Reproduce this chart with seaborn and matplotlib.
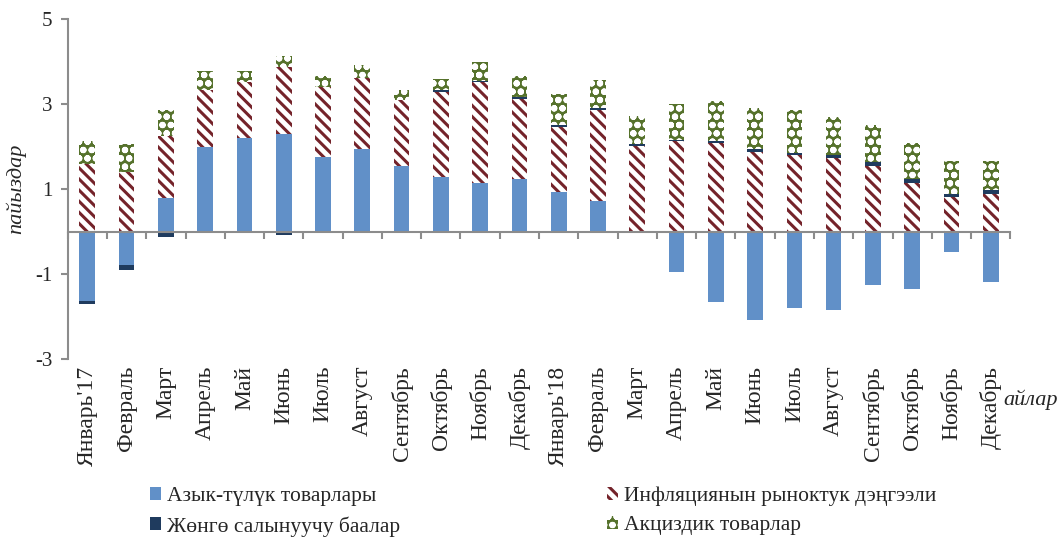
import numpy as np
import matplotlib.pyplot as plt
import seaborn as sns
from matplotlib.patches import Patch

# Months (Jan 2017 - Dec 2018)
months = ["Январь'17", "Февраль", "Март", "Апрель", "Май", "Июнь", "Июль", "Август",
          "Сентябрь", "Октябрь", "Ноябрь", "Декабрь", "Январь'18", "Февраль", "Март",
          "Апрель", "Май", "Июнь", "Июль", "Август", "Сентябрь", "Октябрь", "Ноябрь", "Декабрь"]

# Contributions, percentage points
food = [-1.63, -0.78, 0.80, 1.98, 2.21, 2.29, 1.76, 1.94, 1.55, 1.28, 1.15, 1.24,
        0.93, 0.71, -0.02, -0.96, -1.65, -2.09, -1.80, -1.84, -1.26, -1.35, -0.47, -1.18]
market = [1.59, 1.41, 1.45, 1.36, 1.31, 1.58, 1.65, 1.67, 1.54, 2.00, 2.36, 1.88,
          1.53, 2.16, 2.02, 2.12, 2.08, 1.86, 1.80, 1.73, 1.55, 1.15, 0.81, 0.89]
regulated = [-0.07, -0.13, -0.12, 0.0, 0.0, -0.08, 0.0, 0.0, 0.0, 0.04, 0.04, 0.04,
             0.04, 0.04, 0.04, 0.04, 0.04, 0.08, 0.05, 0.08, 0.08, 0.09, 0.08, 0.08]
excise = [0.53, 0.65, 0.61, 0.43, 0.26, 0.26, 0.24, 0.31, 0.25, 0.26, 0.43, 0.49,
          0.74, 0.65, 0.66, 0.85, 0.96, 0.97, 1.01, 0.88, 0.88, 0.85, 0.76, 0.70]

series_names = ["Азык-түлүк товарлары", "Инфляциянын рыноктук дэңгээли",
                "Жөнгө салынуучу баалар", "Акциздик товарлар"]

sns.set_theme(style="white")
plt.rcParams['font.family'] = ['Liberation Serif', 'DejaVu Serif']
plt.rcParams['axes.unicode_minus'] = False
plt.rcParams['hatch.linewidth'] = 2.2

fig = plt.figure(figsize=(10.58, 5.44), dpi=100)
ax = fig.add_axes([0.064, 0.340, 0.891, 0.625])

x = np.arange(len(months))
width = 0.4
pos_bottom = np.zeros(len(months))
neg_bottom = np.zeros(len(months))

styles = [
    dict(color='#6190c8', edgecolor='#6190c8', hatch=None),
    dict(color='white', edgecolor='#74232a', hatch='\\\\\\'),
    dict(color='#1f3b5e', edgecolor='#1f3b5e', hatch=None),
    dict(color='#56722c', edgecolor='white', hatch='oo'),
]

# stacked bars: positives go up, negatives go down separately
for vals, st in zip([food, market, regulated, excise], styles):
    vals = np.array(vals)
    bottoms = np.where(vals >= 0, pos_bottom, neg_bottom)
    ax.bar(x, vals, width, bottom=bottoms, color=st['color'], edgecolor=st['edgecolor'],
           hatch=st['hatch'], linewidth=0)
    pos_bottom += np.where(vals >= 0, vals, 0)
    neg_bottom += np.where(vals < 0, vals, 0)

ax.set_xlim(-0.5, len(months) - 0.5)
ax.set_ylim(-3, 5)
ax.set_yticks([-3, -1, 1, 3, 5])
ax.tick_params(axis='y', labelsize=15, length=5, color='#8c8c8c', left=True,
               direction='out', width=1.5, pad=6)

for s in ['top', 'right']:
    ax.spines[s].set_visible(False)
ax.spines['left'].set_color('#8c8c8c')
ax.spines['left'].set_linewidth(1.5)
ax.spines['bottom'].set_position(('data', 0))
ax.spines['bottom'].set_color('#8c8c8c')
ax.spines['bottom'].set_linewidth(1.5)
ax.set_xticks(np.arange(len(months) + 1) - 0.5)
ax.set_xticklabels([])
ax.tick_params(axis='x', length=5, color='#8c8c8c', bottom=True, direction='out', width=1.5)

# month labels at the bottom of the plot area
sec = ax.secondary_xaxis('bottom')
sec.set_xticks(x, labels=months, rotation=90)
sec.tick_params(length=0, labelsize=17, pad=5)
sec.spines['bottom'].set_visible(False)

ax.set_ylabel('пайыздар', fontsize=16, style='italic')
ax.yaxis.set_label_coords(-0.044, 0.5)
ax.text(1.021, -0.12, 'айлар', transform=ax.transAxes, fontsize=16, style='italic',
        ha='center', va='center')

handles = [Patch(facecolor=styles[i]['color'], edgecolor=styles[i]['edgecolor'],
                 hatch=styles[i]['hatch'], linewidth=0, label=series_names[i])
           for i in [0, 2, 1, 3]]
fig.legend(handles=handles, ncol=2, loc='lower left', bbox_to_anchor=(0.123, -0.022),
           frameon=False, fontsize=15.5, handlelength=0.55, handleheight=0.55,
           handletextpad=0.25, columnspacing=9.6, labelspacing=0.45)

fig.savefig('out.png', dpi=100)
